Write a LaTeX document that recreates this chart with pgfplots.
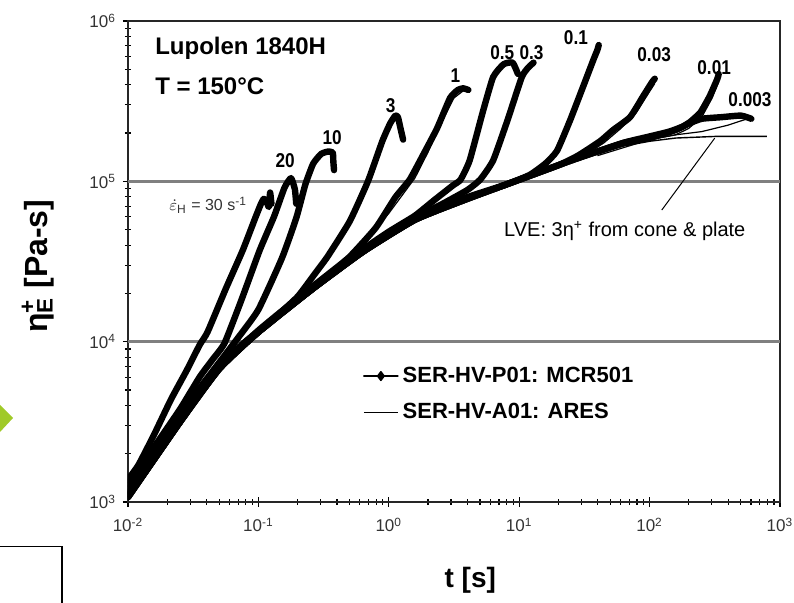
\documentclass[border=0pt]{standalone}
\usepackage{fontspec}
\setmainfont{Liberation Sans}
\newfontfamily\narrowfont[FakeStretch=0.86]{Liberation Sans}
\usepackage{pgfplots}
\pgfplotsset{compat=1.18}

\definecolor{gridgray}{RGB}{128,128,128}
\definecolor{arrowgreen}{RGB}{160,202,40}

\pgfplotsset{
  mcr/.style={black, line width=3.2pt, line join=round, line cap=round, smooth, tension=0.3},
  ares/.style={black, line width=0.6pt, line join=round},
  lve/.style={black, line width=0.7pt},
}

\begin{document}
\begin{tikzpicture}
\useasboundingbox (0,0) rectangle (397pt,301.5pt);

% slide decorations around the figure
\fill[arrowgreen] (0,99pt) -- (6.5pt,92.5pt) -- (0,85.5pt) -- cycle;
\draw[black, line width=0.8pt] (0,28.3pt) -- (31pt,28.3pt) -- (31pt,0);

\begin{axis}[
  at={(64pt,50.5pt)}, anchor=south west,
  scale only axis, width=326pt, height=240.5pt,
  xmode=log, ymode=log,
  xmin=0.01, xmax=1000, ymin=1000, ymax=1e6,
  axis line style={line width=0.8pt, black!85},
  xtick pos=bottom, ytick pos=left, tick align=center,
  major tick length=5pt, minor tick length=3pt,
  every tick/.style={black, line width=0.6pt},
  xtick={0.01,0.1,1,10,100,1000},
  xticklabels={10\textsuperscript{-2},10\textsuperscript{-1},10\textsuperscript{0},10\textsuperscript{1},10\textsuperscript{2},10\textsuperscript{3}},
  ytick={1000,10000,100000,1000000},
  yticklabels={10\textsuperscript{3},10\textsuperscript{4},10\textsuperscript{5},10\textsuperscript{6}},
  tick label style={font=\fontsize{8.5}{9}\selectfont, text=black!80},
  xticklabel style={yshift=-2pt},
  extra y ticks={10000,100000},
  extra y tick labels={},
  extra y tick style={grid=major, major tick length=0pt, ytick pos=left},
  major grid style={gridgray, line width=1.4pt},
  xlabel={t [s]},
  xlabel style={at={(axis description cs:0.525,-0.162)}, anchor=center, font=\bfseries\fontsize{14}{16}\selectfont},
  ylabel={η\makebox[0pt][l]{\textsuperscript{+}}\textsubscript{E} [Pa-s]},
  ylabel style={at={(axis description cs:-0.138,0.49)}, anchor=center, font=\bfseries\fontsize{16}{18}\selectfont},
  legend style={at={(axis description cs:0.36,0.29)}, anchor=north west,
    draw=none, fill=none, inner sep=0pt, row sep=5pt,
    font=\bfseries\fontsize{11}{13}\selectfont},
  legend cell align=left,
]

% linear viscoelastic envelope 3*eta+ (cone & plate)
\addplot[lve, forget plot] coordinates {
(0.01,1072) (0.01585,1738) (0.02512,3162) (0.03162,4169) (0.03981,5370)
(0.05012,6761) (0.0631,8128) (0.07943,9550) (0.1,11220) (0.1585,15140)
(0.2512,20420) (0.3981,26920) (0.631,35480) (1,45710) (1.585,56230)
(2.512,66070) (3.981,75860) (6.31,87100) (10,100000) (15.85,114800)
(25.12,131800) (39.81,147900) (63.1,166000) (100,177800) (158.5,186200)
(316.2,190500) (794.3,190500)};

% SER-HV-P01 on MCR501, Hencky rates 30 ... 0.003 1/s
\addplot[mcr, legend image post style={line width=0.7pt, mark=diamond*, mark size=2.2pt, sharp plot}] coordinates {
(0.01,1380) (0.01202,1700) (0.01585,2630) (0.02138,4365) (0.02818,6607)
(0.03548,9550) (0.04074,11480) (0.05623,21380) (0.07586,37150) (0.0955,60260)
(0.1047,72440) (0.1096,77620) (0.1148,75860) (0.1202,69180) (0.123,85110) (0.1259,72440)};
\addlegendentry{SER-HV-P01: MCR501}

\addplot[mcr, forget plot] coordinates {
(0.01,1290) (0.01585,2200) (0.02512,3802) (0.03548,6026) (0.04467,7762)
(0.05495,9772) (0.07413,18200) (0.1023,37150) (0.1318,60260) (0.1585,91200)
(0.1778,104700) (0.1905,89130) (0.195,72440)};

\addplot[mcr, forget plot] coordinates {
(0.01,1230) (0.02512,3548) (0.05012,7413) (0.07079,10720) (0.1,15850)
(0.1514,33110) (0.195,58880) (0.2291,95500) (0.263,128800) (0.302,147900)
(0.3388,153100) (0.3715,151400) (0.3758,131800) (0.3802,117500)};

\addplot[mcr, forget plot] coordinates {
(0.01,1175) (0.02512,3311) (0.05012,7079) (0.07943,10000) (0.1259,13490)
(0.1995,19050) (0.2692,26300) (0.3388,33880) (0.5012,56230) (0.6918,100000)
(0.8913,177800) (1.023,229100) (1.122,257000) (1.175,251200) (1.23,213800) (1.288,182000)};

\addplot[mcr, forget plot] coordinates {
(0.01,1122) (0.02512,3236) (0.05012,6918) (0.1,11750) (0.1995,18620)
(0.3548,26920) (0.5012,33880) (0.7943,51290) (1.122,79430) (1.445,102300)
(1.82,144500) (2.344,213800) (2.951,331100) (3.388,371500) (3.715,380200) (4.074,371500)};

\addplot[mcr, forget plot] coordinates {
(0.01,1096) (0.02512,3236) (0.05012,6918) (0.1,11480) (0.2512,20890)
(0.631,37500) (1,48500) (1.585,61000) (2.239,76500) (3.09,94000)
(3.548,102300) (4.169,134900) (5.248,269200) (6.31,446700) (7.586,537000)
(8.913,549500) (9.772,467700)};

\addplot[mcr, forget plot] coordinates {
(0.01,1072) (0.02512,3162) (0.05012,6918) (0.1,11480) (0.2512,20890)
(0.631,36310) (1.585,58880) (2.512,71500) (3.981,88000) (5.012,102300)
(6.31,134900) (8.128,239900) (10.47,446700) (11.75,512900) (12.88,549500)};

\addplot[mcr, forget plot] coordinates {
(0.01,1096) (0.02512,3236) (0.05012,6918) (0.1,11480) (0.2512,20890)
(0.631,36310) (1.585,57540) (3.981,79430) (7.943,95500) (12.02,109600)
(15.85,128800) (19.5,154900) (24.55,239900) (30.9,389000) (37.15,575400)
(39.81,660700) (40.74,707900)};

\addplot[mcr, forget plot] coordinates {
(0.01,1072) (0.02512,3162) (0.05012,6761) (0.1,11480) (0.2512,20890)
(0.631,36310) (1.585,57540) (3.981,77620) (10,102300) (19.95,125900)
(28.18,144500) (41.69,177800) (52.48,208900) (70.79,251200) (89.13,338800)
(104.7,416900) (109.6,436500)};

\addplot[mcr, forget plot] coordinates {
(0.01,1072) (0.02512,3162) (0.05012,6761) (0.1,11480) (0.2512,20890)
(0.631,36310) (1.585,57540) (3.981,77620) (10,102300) (25.12,134900)
(63.1,173800) (100,190500) (141.3,204200) (177.8,218800) (204.2,234400)
(245.5,269200) (288.4,338800) (331.1,436500) (338.8,467700)};

\addplot[mcr, forget plot] coordinates {
(0.01,1072) (0.02512,3162) (0.05012,6761) (0.1,11480) (0.2512,20890)
(0.631,36310) (1.585,57540) (3.981,77620) (10,102300) (25.12,134900)
(63.1,173800) (100,186200) (158.5,208900) (199.5,229100) (251.2,245500)
(354.8,251200) (501.2,257000) (602.6,245500)};

% SER-HV-A01 on ARES
\addplot[ares] coordinates {
(39.81,144500) (100,182000) (158.5,195000) (251.2,204200) (398.1,223900) (562.3,245500)};
\addlegendentry{SER-HV-A01: ARES}

\addplot[ares, forget plot] coordinates {
(100,182000) (158.5,195000) (199.5,213800) (251.2,251200) (302,331100) (338.8,416900)};

\addplot[ares, forget plot] coordinates {
(31.62,144500) (44.67,173800) (60.26,213800) (79.43,269200) (100,363100) (109.6,407400)};

\addplot[ares, forget plot] coordinates {
(0.631,40740) (1,63100) (1.585,104700) (1.995,151400) (2.512,229100) (3.162,331100) (3.802,371500)};

% annotations
\node[anchor=west, font=\bfseries\fontsize{12}{14}\selectfont] at (axis description cs:0.031,0.944) {Lupolen 1840H};
\node[anchor=west, font=\bfseries\fontsize{12}{14}\selectfont] at (axis description cs:0.031,0.865) {T = 150°C};

\begin{scope}[every node/.style={font=\narrowfont\bfseries\fontsize{10}{11}\selectfont}]
\node at (axis description cs:0.241,0.709) {20};
\node at (axis description cs:0.313,0.757) {10};
\node at (axis description cs:0.403,0.823) {3};
\node at (axis description cs:0.502,0.886) {1};
\node at (axis description cs:0.574,0.934) {0.5};
\node at (axis description cs:0.619,0.934) {0.3};
\node at (axis description cs:0.687,0.965) {0.1};
\node at (axis description cs:0.807,0.931) {0.03};
\node at (axis description cs:0.899,0.904) {0.01};
\node at (axis description cs:0.954,0.836) {0.003};
\end{scope}
\node[font=\fontsize{8}{9}\selectfont, text=black!80] at (axis description cs:0.123,0.617) {$\dot{\varepsilon}_{\mathrm{H}}$ = 30 s\textsuperscript{-1}};

\draw[black, line width=0.5pt] (axis cs:124,66200) -- (axis cs:316,186000);
\node[font=\fontsize{10}{12}\selectfont] at (axis description cs:0.762,0.563) {LVE: 3η\textsuperscript{+} from cone \& plate};

\end{axis}
\end{tikzpicture}
\end{document}
